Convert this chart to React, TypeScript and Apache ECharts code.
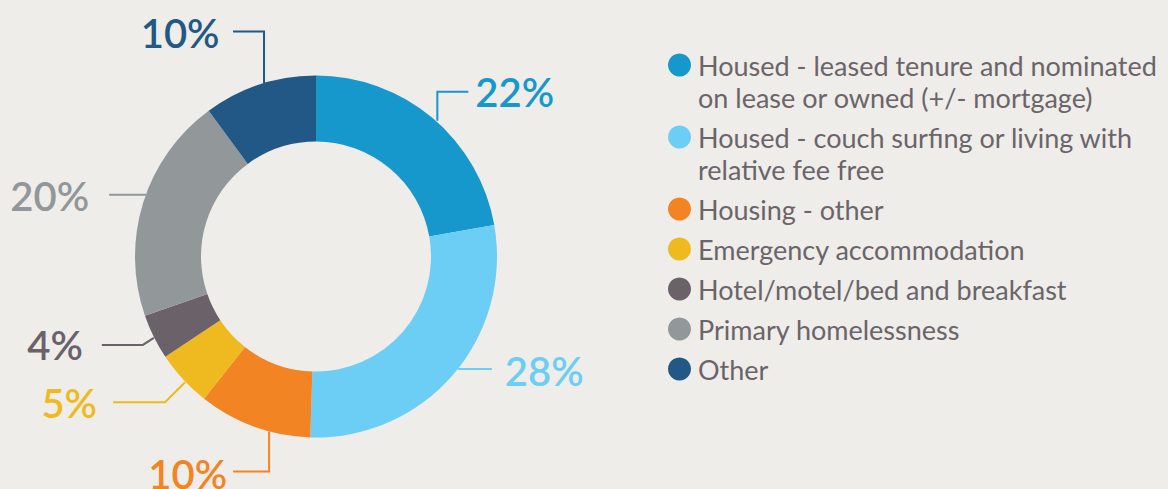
import React, { useEffect, useRef } from "react";
import * as echarts from "echarts";

const CATEGORIES = [
  "Housed - leased tenure and nominated on lease or owned (+/- mortgage)",
  "Housed - couch surfing or living with relative fee free",
  "Housing - other",
  "Emergency accommodation",
  "Hotel/motel/bed and breakfast",
  "Primary homelessness",
  "Other",
];
const LEGEND_LINES = [
  ["Housed - leased tenure and nominated", "on lease or owned (+/- mortgage)"],
  ["Housed - couch surfing or living with", "relative fee free"],
  ["Housing - other"],
  ["Emergency accommodation"],
  ["Hotel/motel/bed and breakfast"],
  ["Primary homelessness"],
  ["Other"],
];
const VALUES = [22, 28, 10, 5, 4, 20, 10];
const COLORS = ["#1798CC", "#6DCEF5", "#F38424", "#EFBA20", "#6B6168", "#929799", "#225886"];

// Leader-line routes, relative to the slice's outer mid-point (style only)
const LEADERS: { line: number[][]; label: number[]; align: string }[] = [
  { line: [[5, 3], [5, -26], [36, -26]], label: [43, -26], align: "left" },
  { line: [[5, -6], [39, -6]], label: [52, -4], align: "left" },
  { line: [[15, 5], [15, 45], [-21, 45]], label: [-27, 47], align: "right" },
  { line: [[2, 3], [-18, 23], [-70, 23]], label: [-86, 24], align: "right" },
  { line: [[0, 1], [-11, 8], [-52, 8]], label: [-71, 8], align: "right" },
  { line: [[3, -8], [-34, -8]], label: [-54, -7], align: "right" },
  { line: [[4.5, -1.5], [4.5, -53], [-26.5, -53]], label: [-40, -52], align: "right" },
];

// legend text paddings so that the icon sits beside the first line
const LEGEND_PADDING = [
  [32, 0, 0, 2],
  [64, 0, 32, 2],
  [32, 0, 32, 2],
  [32, 0, 32, 2],
  [32, 0, 32, 2],
  [32, 0, 32, 2],
  [32, 0, 32, 2],
];

const BG = "#EEEDE9";
const TEXT = "#6B6469";

export default function App() {
  const ref = useRef<HTMLDivElement>(null);
  useEffect(() => {
    document.body.style.margin = "0";
    document.body.style.background = BG;
    const chart = echarts.init(ref.current!, null, { renderer: "svg" });
    chart.setOption({
      animation: false,
      backgroundColor: BG,
      legend: {
        orient: "vertical",
        left: 668,
        top: 17,
        padding: 0,
        itemWidth: 23,
        itemHeight: 23,
        itemGap: -56,
        icon: "circle",
        selectedMode: false,
        data: CATEGORIES.map((n, i) => ({
          name: n,
          textStyle: { padding: LEGEND_PADDING[i] },
        })),
        formatter: (name: string) => {
          const idx = CATEGORIES.indexOf(name);
          return LEGEND_LINES[idx].map((l) => `{a|${l}}`).join("\n");
        },
        textStyle: {
          fontFamily: "Lato",
          fontSize: 27,
          color: TEXT,
          lineHeight: 32,
          rich: { a: { fontFamily: "Lato", fontSize: 27, color: TEXT, lineHeight: 32 } },
        },
      },
      series: [
        {
          type: "pie",
          center: [316, 256.5],
          radius: [115, 181],
          startAngle: 90,
          clockwise: true,
          avoidLabelOverlap: false,
          silent: true,
          label: {
            show: true,
            position: "outside",
            formatter: "{c}%",
            fontFamily: "Lato",
            fontWeight: 600,
            fontSize: 40,
          },
          labelLine: { show: true, length: 10, length2: 10, lineStyle: { width: 2 } },
          labelLayout: (p: any) => {
            const a = p.labelLinePoints && p.labelLinePoints[0];
            const cfg = LEADERS[p.dataIndex];
            if (!a || !cfg) return {};
            return {
              x: a[0] + cfg.label[0],
              y: a[1] + cfg.label[1],
              align: cfg.align,
              verticalAlign: "middle",
              labelLinePoints: cfg.line.map(([dx, dy]) => [a[0] + dx, a[1] + dy]),
            };
          },
          data: CATEGORIES.map((n, i) => ({
            name: n,
            value: VALUES[i],
            itemStyle: { color: COLORS[i] },
            label: { color: COLORS[i] },
            labelLine: { lineStyle: { color: COLORS[i] } },
          })),
        },
      ],
    });
    return () => chart.dispose();
  }, []);
  return <div ref={ref} style={{ position: "absolute", left: 0, top: 0, width: 1168, height: 489 }} />;
}
